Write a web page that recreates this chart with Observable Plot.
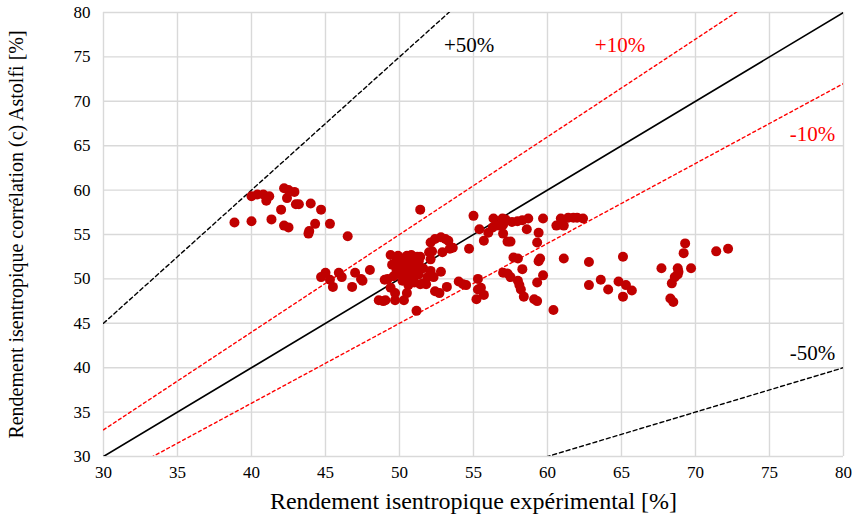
<!DOCTYPE html>
<html><head><meta charset="utf-8">
<script src="https://cdn.jsdelivr.net/npm/d3@7"></script>
<script src="https://cdn.jsdelivr.net/npm/@observablehq/plot@0.6"></script>
<style>body{margin:0;background:#fff} svg text{font-family:"Liberation Serif","Times New Roman",serif}</style>
</head><body><div id="chart"></div>
<script>
// Experimental isentropic efficiency [%]
const xExp = [
 40.0,40.4,40.8,41.2,41.0,42.2,42.5,42.9,42.4,43.0,43.2,44.0,44.7,42.0,38.85,40.0,41.35,42.2,42.5,43.85,43.9,44.3,45.3,46.5,
 45.0,44.7,45.3,45.5,45.9,46.1,47.0,47.4,47.5,46.8,48.0,49.0,48.6,48.9,
 49.4,49.9,50.5,50.8,51.2,51.4,51.0,50.2,49.8,50.6,51.3,49.5,50.0,50.4,50.8,51.2,51.6,52.1,49.8,50.3,50.7,51.0,49.9,50.5,50.9,51.3,50.9,49.6,49.2,50.2,50.6,51.0,51.4,49.4,50.6,49.7,50.5,49.05,49.7,50.3,51.15,52.1,51.9,52.3,51.6,51.8,52.4,52.7,52.8,53.2,52.0,52.2,52.9,53.4,53.6,52.1,52.4,52.8,53.1,53.3,
 51.4,55.0,56.35,56.96,57.16,57.6,57.97,58.3,58.7,59.7,56.7,57.0,56.3,55.4,56.0,58.6,59.4,57.0,55.7,57.3,57.5,59.3,54.7,
 57.7,58.0,59.5,59.4,58.3,57.0,57.3,57.5,58.0,58.1,58.2,58.4,59.1,59.3,59.7,59.3,55.3,55.3,55.5,55.7,55.2,54.0,54.3,54.5,
 60.9,61.4,61.75,62.0,62.4,60.6,61.1,61.1,62.8,63.6,62.8,64.1,60.4,65.1,64.8,65.3,65.7,65.1,67.7,68.8,68.85,68.8,68.6,69.7,68.4,68.3,68.5,69.3,69.2,71.4,72.2
];
// Astolfi correlation (c) isentropic efficiency [%]
const yAst = [
 59.3,59.5,59.5,59.3,58.8,60.2,60.0,59.8,59.1,58.4,58.4,58.5,57.8,57.8,56.35,56.5,56.7,56.0,55.8,55.1,55.4,56.2,56.2,54.8,
 50.7,50.2,49.9,49.1,50.7,50.2,50.7,50.0,49.8,49.1,51.0,49.9,47.6,47.5,
 52.7,52.6,52.6,52.7,52.5,52.5,52.2,52.3,52.0,52.0,52.0,51.6,51.5,51.4,51.6,51.3,51.2,50.9,51.0,51.0,50.9,51.0,50.6,50.4,50.2,50.5,50.0,50.3,50.0,49.8,49.5,49.6,49.4,49.0,49.3,48.4,48.4,47.6,47.6,47.6,46.4,52.2,50.2,50.2,49.5,49.4,48.6,48.4,50.8,49.1,53.0,53.1,53.0,53.4,53.5,54.1,54.5,54.7,54.5,54.3,
 57.8,57.1,56.8,56.8,56.7,56.4,56.5,56.6,56.8,56.8,56.0,56.1,55.8,55.6,55.2,55.6,55.2,55.1,54.3,54.2,54.2,54.1,53.4,
 52.4,52.3,52.3,52.0,51.1,50.7,50.6,50.2,49.8,49.3,48.8,48.0,47.7,47.5,50.4,49.6,50.0,48.8,49.0,48.2,47.7,49.7,49.4,49.3,
 56.8,56.9,56.9,56.9,56.8,56.0,56.0,52.3,51.9,49.9,49.3,48.8,46.5,52.5,49.7,49.3,48.7,48.0,51.2,51.2,50.8,50.5,50.2,51.2,49.5,47.8,47.4,54.0,52.9,53.1,53.4
];
const axisTicks = [30,35,40,45,50,55,60,65,70,75,80];
const refFactors = [1.5, 1.1, 1.0, 0.9, 0.5];
const refNames = ["+50%", "+10%", "", "-10%", "-50%"];
const refLabelX = [54.7, 64.9, null, 77.9, 77.9];
const refLabelY = [76.3, 76.3, null, 66.3, 41.6];
const refColors = ["#000000", "#ff0000", "#000000", "#ff0000", "#000000"];
const refDash = ["4,3", "3,3", null, "3,3", "4,3"];

const points = xExp.map((x, i) => ({x, y: yAst[i]}));
const refMarks = refFactors.map((k, i) => Plot.line(
  [30, 80].map(x => ({x, y: k * x})),
  {x: "x", y: "y", stroke: refColors[i], strokeWidth: k === 1 ? 1.6 : 1.4, strokeDasharray: refDash[i], clip: true}
));
const labels = refNames.map((t, i) => ({t, x: refLabelX[i], y: refLabelY[i], c: refColors[i]})).filter(d => d.t);

const font = "Liberation Serif";
const chart = Plot.plot({
  width: 856, height: 517,
  marginLeft: 103, marginRight: 13, marginTop: 12, marginBottom: 61,
  style: {fontFamily: font, fontSize: "17px", background: "#fff", color: "#000", overflow: "visible"},
  x: {domain: [30, 80]},
  y: {domain: [30, 80]},
  marks: [
    Plot.gridX(axisTicks, {stroke: "#d9d9d9", strokeOpacity: 1, strokeWidth: 1.4}),
    Plot.gridY(axisTicks, {stroke: "#d9d9d9", strokeOpacity: 1, strokeWidth: 1.4}),
    ...refMarks,
    Plot.dot(points, {x: "x", y: "y", r: 5, fill: "#c00000", stroke: "none"}),
    Plot.text(labels, {x: "x", y: "y", text: "t", fill: d => d.c, fontSize: 21}),
    Plot.axisX(axisTicks, {tickSize: 0, tickPadding: 9, fontSize: 17, label: "Rendement isentropique expérimental [%]", labelAnchor: "center", labelOffset: 52, labelArrow: "none"}),
    Plot.axisY(axisTicks, {tickSize: 0, tickPadding: 13, fontSize: 17, label: "Rendement isentropique corrélation (c) Astolfi [%]", labelAnchor: "center", labelOffset: 95, labelArrow: "none"})
  ]
});
chart.querySelectorAll("text").forEach(t => {
  t.setAttribute("font-family", "Liberation Serif");
  t.style.fontFamily = "'Liberation Serif'";
  if (t.textContent.startsWith("Rendement isentropique exp")) t.setAttribute("font-size", "24");
  else if (t.textContent.startsWith("Rendement isentropique cor")) t.setAttribute("font-size", "20");
});
document.getElementById("chart").appendChild(chart);
</script>
</body></html>
